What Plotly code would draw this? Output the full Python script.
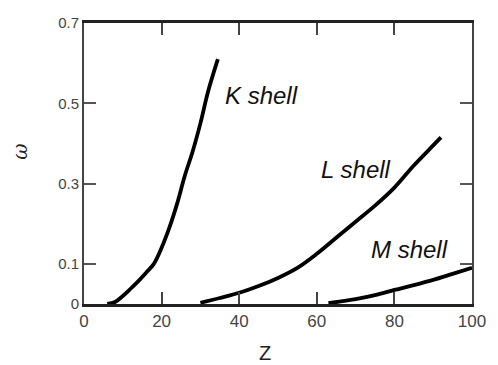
import plotly.graph_objects as go

K_Z = [6, 8, 10, 12, 14, 16, 18, 20, 22, 24, 26, 28, 30, 32, 34.5]
K_w = [0, 0.005, 0.02, 0.038, 0.057, 0.078, 0.10, 0.14, 0.19, 0.25, 0.32, 0.38, 0.45, 0.53, 0.61]

L_Z = [30, 35, 40, 45, 50, 55, 60, 65, 70, 75, 80, 85, 90, 92]
L_w = [0.003, 0.015, 0.028, 0.045, 0.065, 0.09, 0.125, 0.165, 0.205, 0.245, 0.29, 0.345, 0.395, 0.415]

M_Z = [63, 70, 75, 80, 85, 90, 95, 100]
M_w = [0.002, 0.012, 0.022, 0.035, 0.047, 0.06, 0.075, 0.09]

x_ticks = [0, 20, 40, 60, 80, 100]
y_ticks = [0, 0.1, 0.3, 0.5, 0.7]

labels = [("K shell", 45.8, 0.52), ("L shell", 70.2, 0.335), ("M shell", 83.8, 0.135)]

L, R, T, B = 84, 15, 23, 61
W, H = 498, 365
pw, ph = W - L - R, H - T - B

fig = go.Figure()
for zs, ws in [(K_Z, K_w), (L_Z, L_w), (M_Z, M_w)]:
    fig.add_trace(go.Scatter(x=zs, y=ws, mode="lines",
                             line=dict(color="black", width=3.8, shape="spline"),
                             showlegend=False, hoverinfo="skip"))

for text, x, y in labels:
    fig.add_annotation(x=x, y=y, xref="x", yref="y", text=f"<i>{text}</i>",
                       showarrow=False, font=dict(family="Liberation Sans, Arial", size=24, color="#111"))

fig.add_annotation(x=(270 - L) / pw, y=(H - B - 353) / ph, xref="paper", yref="paper",
                   xanchor="center", yanchor="middle", text="Z", showarrow=False,
                   font=dict(family="Liberation Sans, Arial", size=20, color="#222"))
fig.add_annotation(x=(18 - L) / pw, y=(H - B - 152) / ph, xref="paper", yref="paper",
                   xanchor="center", yanchor="middle", text="<i>ω</i>", showarrow=False, textangle=-90,
                   font=dict(family="DejaVu Serif", size=20, color="#222"))

fig.update_layout(
    width=W, height=H,
    margin=dict(l=L, r=R, t=T, b=B),
    paper_bgcolor="white", plot_bgcolor="white",
    font=dict(family="Liberation Sans, Arial", size=16, color="#444"),
)
fig.update_xaxes(range=[0, 100], tickvals=x_ticks, ticktext=[str(v) for v in x_ticks],
                 ticks="inside", ticklen=12, tickwidth=2, tickcolor="#444",
                 showline=True, linecolor="#222", linewidth=2.5, mirror="allticks",
                 showgrid=False, zeroline=False, tickfont=dict(size=17))
fig.update_yaxes(range=[0, 0.7], tickvals=y_ticks, ticktext=["0", "0.1", "0.3", "0.5", "0.7"],
                 ticks="inside", ticklen=12, tickwidth=2, tickcolor="#555",
                 showline=True, linecolor="#444", linewidth=2, mirror="allticks",
                 showgrid=False, zeroline=False, tickfont=dict(size=15))

fig.write_html("out.html")
